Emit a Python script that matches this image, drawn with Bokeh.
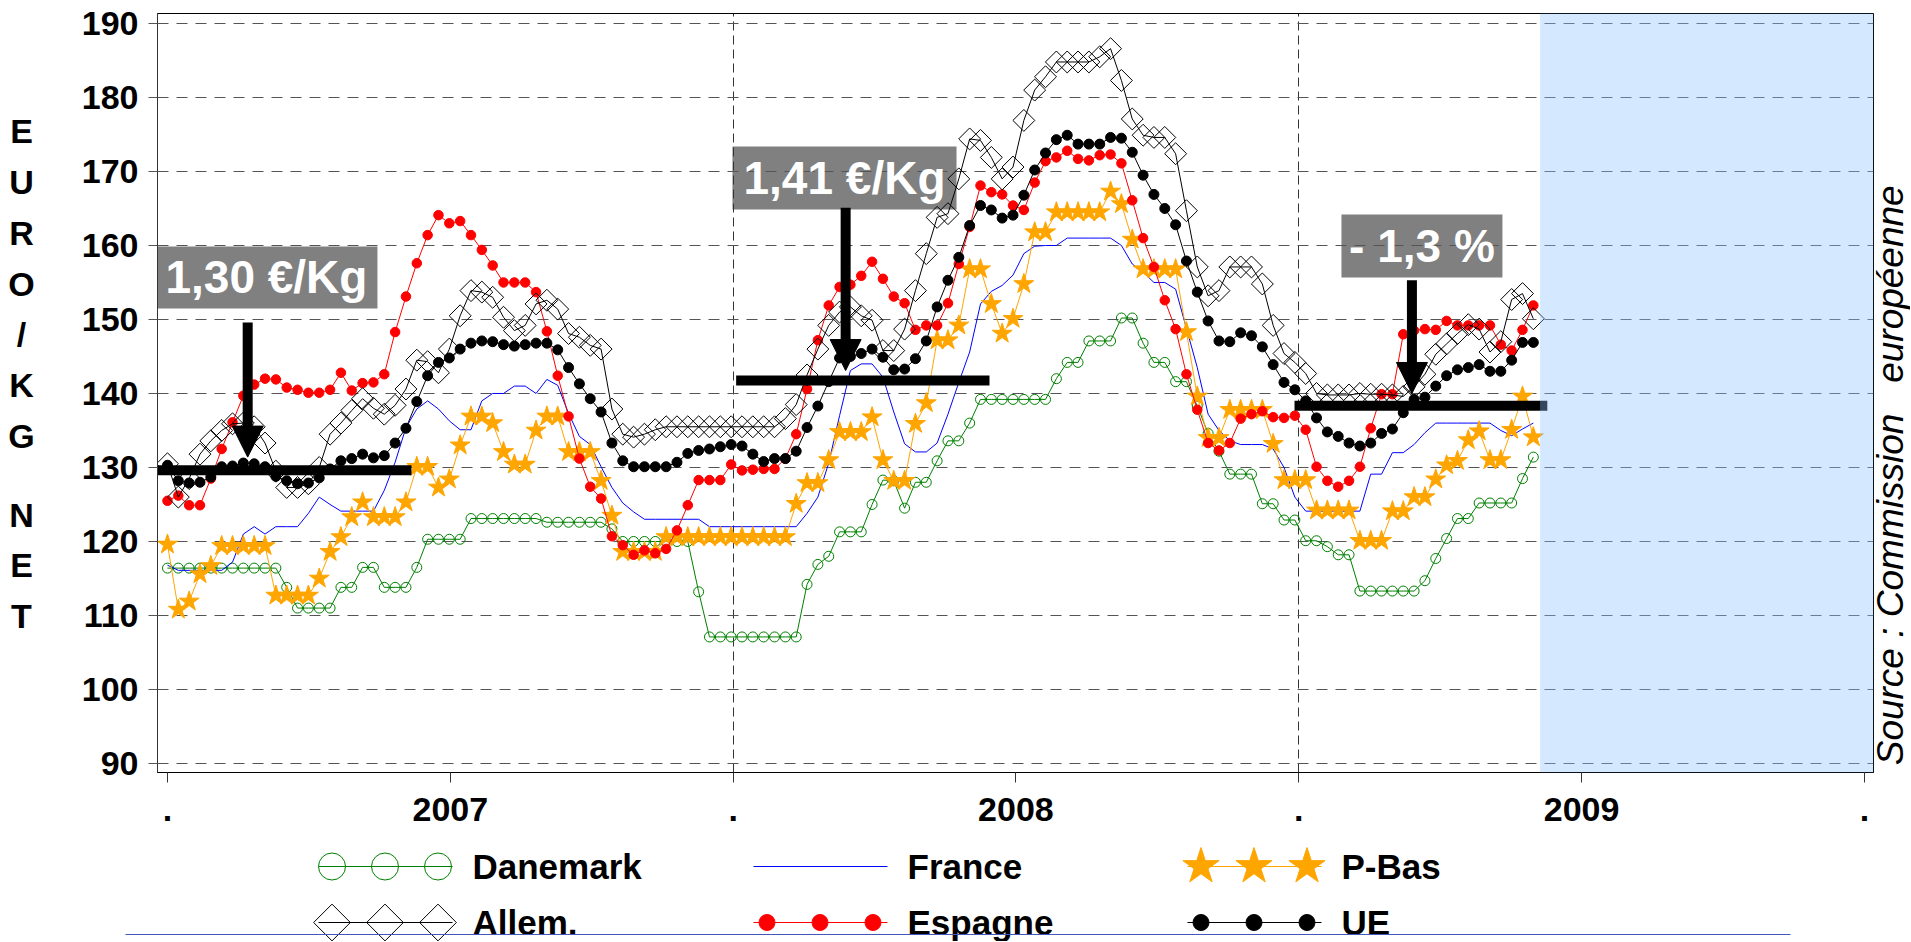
import math
from bokeh.plotting import figure
from bokeh.models import Range1d, FixedTicker, Arrow, NormalHead, BoxAnnotation
from bokeh.layouts import column, row
from bokeh.embed import file_html
from bokeh.resources import INLINE
from bokeh.core.properties import value

FONT = "Liberation Sans"

# ---------------- data (weekly prices, cents EUR / kg net) ----------------
danemark = [
    116.4, 116.4, 116.4, 116.4, 116.4, 116.4, 116.4, 116.4, 116.4, 116.4,
    116.4, 113.8, 111.0, 111.0, 111.0, 111.0, 113.8, 113.8, 116.5, 116.5,
    113.8, 113.8, 113.8, 116.5, 120.3, 120.3, 120.3, 120.3, 123.1, 123.1,
    123.1, 123.1, 123.1, 123.1, 123.1, 122.6, 122.6, 122.6, 122.6, 122.6,
    122.6, 121.7, 120.0, 120.0, 120.0, 120.0, 120.0, 120.0, 120.0, 113.2,
    107.1, 107.1, 107.1, 107.1, 107.1, 107.1, 107.1, 107.1, 107.1, 114.2,
    116.9, 118.0, 121.3, 121.3, 121.3, 125.0, 128.3, 128.2, 124.5, 128.0,
    128.0, 130.9, 133.6, 133.6, 136.0, 139.2, 139.2, 139.2, 139.2, 139.2,
    139.2, 139.2, 142.0, 144.2, 144.2, 147.1, 147.1, 147.1, 150.2, 150.2,
    146.8, 144.2, 144.2, 141.6, 141.6, 138.3, 134.6, 132.2, 129.1, 129.1,
    129.1, 125.1, 125.1, 122.9, 122.9, 120.1, 120.1, 119.3, 118.2, 118.2,
    113.3, 113.3, 113.3, 113.3, 113.3, 113.3, 114.7, 117.7, 120.4, 123.1,
    123.1, 125.2, 125.2, 125.2, 125.2, 128.5, 131.4,
]
france = [
    116.8, 116.1, 116.1, 116.1, 116.1, 116.1, 117.2, 121.0, 122.0, 121.0,
    122.0, 122.0, 122.0, 123.8, 126.0, 125.0, 124.1, 124.1, 124.1, 124.1,
    126.9, 130.7, 135.4, 137.9, 139.0, 137.9, 136.3, 135.1, 135.1, 139.0,
    140.0, 140.0, 141.0, 141.0, 140.0, 141.9, 141.1, 137.3, 134.2, 133.1,
    130.1, 127.3, 125.2, 124.0, 123.0, 123.0, 123.0, 123.0, 123.0, 123.0,
    122.0, 122.0, 122.0, 122.0, 122.0, 122.0, 122.0, 122.0, 122.0, 123.8,
    126.0, 130.6, 137.0, 143.1, 144.0, 144.0, 142.2, 137.5, 133.2, 132.1,
    132.1, 133.3, 137.2, 141.5, 145.6, 152.1, 153.8, 154.6, 156.0, 158.9,
    159.9, 160.0, 160.0, 161.0, 161.0, 161.0, 161.0, 161.0, 160.0, 157.5,
    156.4, 155.0, 155.0, 154.1, 148.8, 143.5, 137.2, 135.0, 133.6, 133.1,
    133.1, 133.1, 132.5, 130.0, 126.0, 124.1, 124.1, 124.1, 124.1, 124.1,
    124.1, 129.1, 129.1, 132.0, 132.0, 133.1, 134.7, 136.0, 136.0, 136.0,
    136.0, 136.0, 136.0, 135.0, 134.3, 135.2, 136.0,
]
pays_bas = [
    119.6, 110.8, 111.9, 115.6, 116.7, 119.4, 119.4, 119.4, 119.4, 119.4,
    112.7, 112.7, 112.7, 112.7, 115.0, 118.6, 120.6, 123.3, 125.3, 123.3,
    123.3, 123.3, 125.3, 130.1, 130.1, 127.3, 128.4, 133.0, 136.9, 136.9,
    136.0, 132.1, 130.4, 130.4, 135.0, 136.9, 136.9, 132.1, 132.1, 132.1,
    128.2, 123.5, 118.6, 118.6, 118.6, 118.6, 120.6, 120.6, 120.6, 120.6,
    120.6, 120.6, 120.6, 120.6, 120.6, 120.6, 120.6, 120.6, 125.1, 127.9,
    127.9, 131.0, 134.8, 134.8, 134.8, 136.8, 131.0, 128.2, 128.2, 135.9,
    138.7, 147.2, 147.2, 149.2, 156.8, 156.8, 152.1, 148.1, 150.1, 154.8,
    161.8, 161.8, 164.5, 164.5, 164.5, 164.5, 164.5, 167.3, 165.6, 160.8,
    156.8, 156.8, 156.8, 156.8, 148.3, 139.6, 134.0, 134.0, 137.8, 137.8,
    137.8, 137.8, 133.2, 128.3, 128.3, 128.3, 124.2, 124.2, 124.2, 124.2,
    120.1, 120.1, 120.1, 124.1, 124.1, 126.0, 126.0, 128.4, 130.3, 130.9,
    133.7, 134.9, 131.0, 131.0, 135.1, 139.6, 134.1,
]
espagne = [
    125.5, 126.2, 124.9, 124.9, 128.5, 132.5, 136.1, 139.7, 141.2, 142.0,
    141.9, 140.8, 140.5, 140.1, 140.1, 140.5, 142.8, 140.4, 141.4, 141.5,
    142.6, 148.3, 153.1, 157.6, 161.4, 164.1, 163.0, 163.3, 161.4, 159.4,
    157.3, 155.0, 155.0, 155.0, 153.7, 148.4, 142.4, 136.9, 131.2, 127.4,
    125.8, 120.7, 119.5, 118.2, 118.8, 118.4, 119.0, 121.5, 124.9, 128.3,
    128.3, 128.3, 130.4, 129.6, 129.7, 129.8, 129.8, 131.2, 134.5, 140.6,
    147.2, 151.9, 154.4, 154.7, 155.9, 157.8, 155.5, 153.1, 152.2, 148.6,
    149.2, 149.2, 152.2, 157.5, 162.5, 168.1, 167.2, 166.9, 165.4, 164.8,
    168.5, 171.4, 171.9, 172.8, 171.7, 171.5, 172.2, 172.3, 171.1, 166.1,
    161.0, 157.1, 152.6, 148.7, 142.6, 137.8, 133.3, 132.3, 133.3, 136.6,
    137.2, 137.6, 136.8, 136.7, 137.0, 135.1, 130.1, 128.2, 127.4, 128.2,
    130.1, 135.3, 139.9, 139.9, 148.0, 148.5, 148.7, 148.6, 149.8, 149.2,
    149.2, 149.2, 149.2, 146.6, 145.8, 148.6, 151.9,
]
allemagne = [
    130.5, 126.0, 128.5, 131.8, 133.6, 135.0, 135.9, 136.0, 135.5, 133.3,
    129.5, 127.3, 127.3, 127.8, 130.0, 134.5, 136.0, 137.7, 139.3, 138.0,
    137.2, 138.4, 140.6, 144.5, 144.3, 142.8, 146.0, 150.5, 153.9, 153.7,
    153.0, 150.3, 148.5, 149.2, 152.1, 152.6, 151.4, 148.1, 147.6, 146.5,
    146.0, 137.9, 134.5, 134.1, 134.5, 135.1, 135.5, 135.5, 135.5, 135.5,
    135.5, 135.5, 135.5, 135.5, 135.5, 135.5, 135.5, 136.6, 138.5, 142.5,
    146.0, 149.2, 151.0, 151.7, 150.5, 149.9, 145.8, 145.8, 148.7, 153.9,
    158.9, 163.8, 164.3, 169.0, 174.4, 174.2, 171.9, 169.0, 170.6, 176.9,
    181.0, 182.8, 184.8, 184.8, 184.8, 184.8, 185.5, 186.6, 182.3, 177.1,
    174.9, 174.6, 174.6, 172.4, 164.7, 157.1, 153.2, 153.9, 157.1, 157.1,
    157.1, 154.8, 149.2, 145.4, 144.2, 142.7, 140.0, 139.8, 139.8, 139.8,
    140.0, 139.9, 139.9, 139.8, 139.6, 140.9, 142.6, 145.3, 146.7, 148.1,
    149.3, 148.7, 145.6, 147.0, 152.7, 153.5, 150.1,
]
ue = [
    130.3, 128.2, 127.9, 128.0, 128.7, 130.1, 130.2, 130.6, 130.5, 130.1,
    128.8, 128.2, 127.8, 127.9, 128.6, 129.8, 130.9, 131.2, 131.8, 131.3,
    131.6, 133.3, 135.3, 138.9, 142.4, 144.2, 144.8, 146.0, 146.8, 147.1,
    147.0, 146.6, 146.4, 146.6, 146.8, 146.8, 145.9, 143.5, 141.3, 139.3,
    137.5, 133.3, 130.9, 130.1, 130.1, 130.1, 130.1, 130.7, 131.9, 132.3,
    132.5, 132.8, 133.1, 132.9, 131.8, 130.8, 131.2, 131.2, 132.2, 135.4,
    138.3, 141.6, 144.8, 145.0, 145.4, 146.0, 144.9, 143.2, 143.3, 144.7,
    147.1, 151.7, 155.3, 158.4, 162.7, 165.4, 164.8, 163.7, 164.1, 166.8,
    170.2, 172.5, 174.3, 174.9, 173.7, 173.7, 173.7, 174.6, 174.5, 172.6,
    169.5, 166.9, 165.0, 162.8, 157.9, 153.7, 149.8, 147.1, 147.0, 148.2,
    147.8, 146.3, 143.9, 141.5, 140.5, 139.0, 136.7, 134.8, 134.2, 133.3,
    132.9, 133.3, 134.6, 135.2, 137.4, 139.2, 139.5, 141.0, 142.4, 143.2,
    143.5, 143.9, 143.0, 143.0, 144.5, 146.9, 146.9,
]
weeks = list(range(len(ue)))   # weeks since 1 Jan 2007

y_ticks = [90, 100, 110, 120, 130, 140, 150, 160, 170, 180, 190]
x_tick_labels = [".", "2007", ".", "2008", ".", "2009", "."]

# averages shown as thick bars, with their call-outs
avg_value = [129.64, 141.76, 138.34]
avg_from = [-1.0, 52.46, 103.97]
avg_to = [22.51, 75.83, 127.29]
callout_text = ["1,30 €/Kg", "1,41 €/Kg", "- 1,3 %"]

title_chars = ["E", "U", "R", "O", "/", "K", "G", "N", "E", "T"]
source_text = "Source : Commission\u00a0\u00a0\u00a0européenne"

# ---------------- main chart ----------------
HALF_YEAR = 365.25 / 14.0          # half a year, in weeks
x_tick_pos = [round(k * HALF_YEAR, 2) for k in range(len(x_tick_labels))]

p = figure(width=1824, height=830, title=None,
           x_range=Range1d(-0.92, 157.38), y_range=Range1d(88.78, 191.35),
           output_backend="svg", toolbar_location=None,
           min_border_left=107, min_border_right=1,
           min_border_top=13, min_border_bottom=58)
p.background_fill_color = "white"
p.border_fill_color = "white"
p.outline_line_color = "black"
p.outline_line_width = 1

# axes
p.yaxis.ticker = FixedTicker(ticks=y_ticks)
p.yaxis.major_label_text_font = FONT
p.yaxis.major_label_text_font_style = "bold"
p.yaxis.major_label_text_font_size = "34px"
p.yaxis.major_label_text_color = "black"
p.yaxis.major_label_standoff = 10
p.yaxis.major_tick_out = 9
p.yaxis.major_tick_in = 0
p.yaxis.minor_tick_line_color = None
p.yaxis.major_tick_line_color = "#555555"
p.yaxis.axis_line_color = "#333333"

p.xaxis.ticker = FixedTicker(ticks=x_tick_pos)
p.xaxis.major_label_overrides = {pos: lab for pos, lab in zip(x_tick_pos, x_tick_labels)}
p.xaxis.major_label_text_font = FONT
p.xaxis.major_label_text_font_style = "bold"
p.xaxis.major_label_text_font_size = "34px"
p.xaxis.major_label_text_color = "black"
p.xaxis.major_label_standoff = 15
p.xaxis.major_tick_out = 10
p.xaxis.major_tick_in = 0
p.xaxis.minor_tick_line_color = None
p.xaxis.major_tick_line_color = "#333333"
p.xaxis.axis_line_color = "black"

# grids
p.ygrid.ticker = FixedTicker(ticks=y_ticks)
p.ygrid.grid_line_color = "#555555"
p.ygrid.grid_line_dash = "11 8"
p.ygrid.grid_line_width = 1.2
p.xgrid.ticker = FixedTicker(ticks=[x_tick_pos[2], x_tick_pos[4]])
p.xgrid.grid_line_color = "#333333"
p.xgrid.grid_line_dash = "9 5"
p.xgrid.grid_line_width = 1

# call-out boxes (below the grid)
box_left = [-1.11, 52.12, 108.30]
box_right = [19.37, 72.79, 123.15]
box_bottom = [151.49, 164.86, 155.68]
box_top = [159.86, 173.38, 164.19]
p.quad(left=box_left, right=box_right, bottom=box_bottom, top=box_top,
       fill_color="#808080", line_color=None, level="image")
p.text(x=[(a + b) / 2 for a, b in zip(box_left, box_right)],
       y=[(a + b) / 2 for a, b in zip(box_bottom, box_top)],
       text=callout_text, text_color="white",
       text_font=value(FONT), text_font_style="bold",
       text_font_size=value("46px"), text_align="center", text_baseline="middle")

# series
p.line(weeks, danemark, line_color="#008000", line_width=1)
p.scatter(weeks, danemark, marker="circle", size=10, fill_color=None,
          line_color="#008000", line_width=1)
p.line(weeks, france, line_color="#0000ff", line_width=1)
p.line(weeks, pays_bas, line_color="#ffa500", line_width=1)
p.scatter(weeks, pays_bas, marker="star", size=21, fill_color="#ffa500",
          line_color="#ffa500", line_width=1)
p.line(weeks, espagne, line_color="#ff0000", line_width=1)
p.scatter(weeks, espagne, marker="circle", size=9.5, fill_color="#ff0000",
          line_color="#ff0000")
p.line(weeks, allemagne, line_color="black", line_width=1)
p.scatter(weeks, allemagne, marker="square", angle=math.pi / 4, size=15.5,
          fill_color=None, line_color="black", line_width=1)
p.line(weeks, ue, line_color="black", line_width=1)
p.scatter(weeks, ue, marker="circle", size=10, fill_color="black", line_color="black")

# average bars
p.segment(x0=avg_from, y0=avg_value, x1=avg_to, y1=avg_value,
          line_color="black", line_width=10, line_cap="butt")

# arrows
arrow_x = [7.40, 62.56, 114.8]
arrow_from = [149.6, 165.1, 155.3]
arrow_to = [131.4, 143.1, 140.0]
for ax, y0, y1 in zip(arrow_x, arrow_from, arrow_to):
    p.add_layout(Arrow(end=NormalHead(size=31, fill_color="black", line_color="black"),
                       x_start=ax, y_start=y0, x_end=ax, y_end=y1,
                       line_color="black", line_width=10))

# shaded future area
p.add_layout(BoxAnnotation(left=126.62, fill_color="#89c0ff", fill_alpha=0.37,
                           line_color=None))


def strip(width, height, x0, y0):
    """A bare strip whose data coordinates are page pixels (y downwards)."""
    f = figure(width=width, height=height, title=None,
               x_range=Range1d(x0, x0 + width), y_range=Range1d(y0 + height, y0),
               output_backend="svg", toolbar_location=None,
               x_axis_type=None, y_axis_type=None,
               min_border_left=0, min_border_right=0,
               min_border_top=0, min_border_bottom=0)
    f.grid.visible = False
    f.outline_line_color = None
    f.background_fill_color = "white"
    f.border_fill_color = "white"
    return f


# stacked y-axis title (left strip)
t = strip(50, 830, 0, 0)
title_steps = [0, 1, 2, 3, 4, 5, 6, 7.55, 8.55, 9.55]
t.text(x=[21] * len(title_chars), y=[129 + 55.5 * k for k in title_steps],
       text=title_chars, text_font=value(FONT), text_font_style="bold",
       text_font_size=value("34px"), text_align="center", text_baseline="middle",
       text_color="black")

# source (right strip)
s = strip(36, 830, 1874, 0)
s.text(x=[1890], y=[505], text=[source_text], angle=math.pi / 2,
       text_font=value(FONT), text_font_style="italic", text_font_size=value("37px"),
       text_align="center", text_baseline="middle", text_color="black")

# legend (bottom strip)
q = strip(1910, 111, 0, 830)
legend_labels = ["Danemark", "France", "P-Bas", "Allem.", "Espagne", "UE"]
legend_colors = ["#008000", "#0000ff", "#ffa500", "black", "#ff0000", "black"]
legend_markers = ["circle", None, "star", "square", "circle", "circle"]
legend_sizes = [27, 0, 38, 26, 16, 16]
legend_fill = [None, None, "#ffa500", None, "#ff0000", "black"]
col_x0 = [318, 753, 1187]
text_x = [472, 907, 1341]
row_y = [866, 922]
offsets = [13.5, 66.5, 119.5]
for n, lab in enumerate(legend_labels):
    c, r = n % 3, n // 3
    x0, yy = col_x0[c], row_y[r]
    q.line([x0, x0 + 134], [yy, yy], line_color=legend_colors[n], line_width=1)
    if legend_markers[n]:
        q.scatter([x0 + o for o in offsets], [yy] * 3, marker=legend_markers[n],
                  size=legend_sizes[n], fill_color=legend_fill[n],
                  line_color=legend_colors[n], line_width=1,
                  angle=(math.pi / 4 if legend_markers[n] == "square" else 0))
q.text(x=[text_x[n % 3] for n in range(6)], y=[row_y[n // 3] for n in range(6)],
       text=legend_labels, text_font=value(FONT), text_font_style="bold",
       text_font_size=value("35px"), text_align="left", text_baseline="middle",
       text_color="black")
q.line([125, 1790], [934, 934], line_color="#4455bb", line_width=1)

layout = column(row(t, p, s), q)
open("out.html", "w").write(file_html(layout, INLINE))
